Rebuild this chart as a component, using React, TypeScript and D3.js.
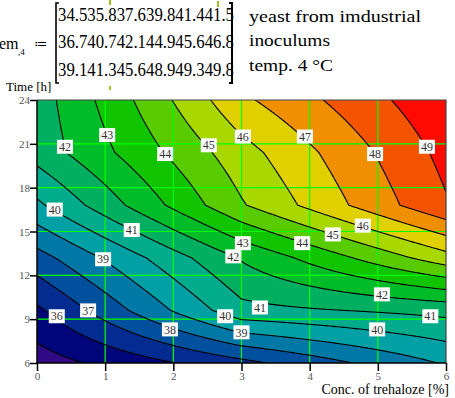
import React, { useEffect, useRef } from "react";
import * as d3 from "d3";

// emulsion values: one row per trehalose concentration, one column per time
const concentrations = [0, 3, 6];
const times = [6, 9.6, 13.2, 16.8, 20.4, 24];
const emConc0 = [34.5, 35.8, 37.6, 39.8, 41.4, 41.5];
const emConc3 = [36.7, 40.7, 42.1, 44.9, 45.6, 46.8];
const emConc6 = [39.1, 41.3, 45.6, 48.9, 49.3, 49.8];
const emRows = [emConc0, emConc3, emConc6];

const levels = [35, 36, 37, 38, 39, 40, 41, 42, 43, 44, 45, 46, 47, 48, 49];
const bandColors = [
  "#300a84", "#00067a", "#042c90", "#00509e", "#0078a6", "#00a0a4",
  "#00ac8c", "#00b060", "#00bc28", "#10c400", "#58cc00", "#a8d800",
  "#e0d000", "#f09000", "#f45400", "#ff0a00",
];
const xTicks = [0, 1, 2, 3, 4, 5, 6];
const yTicks = [6, 9, 12, 15, 18, 21, 24];

// contour labels: value, concentration, time
const labelValues = [36, 37, 38, 39, 39, 40, 40, 40, 41, 41, 41, 42, 42, 42, 43, 43, 44, 44, 45, 45, 46, 46, 47, 48, 49];
const labelConc = [0.29, 0.75, 1.95, 0.97, 3.0, 0.26, 2.76, 4.99, 1.39, 3.27, 5.77, 0.41, 2.88, 5.06, 1.03, 3.02, 1.88, 3.89, 2.52, 4.34, 3.02, 4.78, 3.93, 4.96, 5.72];
const labelTime = [9.2, 9.6, 8.3, 13.1, 8.1, 16.5, 9.2, 8.3, 15.1, 9.8, 9.2, 20.8, 13.3, 10.7, 21.6, 14.2, 20.3, 14.2, 20.9, 14.8, 21.5, 15.4, 21.5, 20.3, 20.8];

const W = 455;
const H = 398;
const serif = "'Liberation Serif', 'Times New Roman', 'DejaVu Serif', serif";

// bilinear lookup in the measured table
function valueAt(x: number, t: number) {
  const cx = Math.max(concentrations[0], Math.min(concentrations[concentrations.length - 1], x));
  const ct = Math.max(times[0], Math.min(times[times.length - 1], t));
  const i = Math.min(concentrations.length - 2, Math.max(0, d3.bisectRight(concentrations, cx) - 1));
  const j = Math.min(times.length - 2, Math.max(0, d3.bisectRight(times, ct) - 1));
  const u = (cx - concentrations[i]) / (concentrations[i + 1] - concentrations[i]);
  const s = (ct - times[j]) / (times[j + 1] - times[j]);
  return (
    emRows[i][j] * (1 - u) * (1 - s) +
    emRows[i + 1][j] * u * (1 - s) +
    emRows[i][j + 1] * (1 - u) * s +
    emRows[i + 1][j + 1] * u * s
  );
}

function ContourChart() {
  const svgRef = useRef<SVGSVGElement>(null);

  useEffect(() => {
    const svg = d3.select(svgRef.current);
    svg.selectAll("*").remove();

    const x = d3.scaleLinear().domain([0, 6]).range([37, 446]);
    const y = d3.scaleLinear().domain([6, 24]).range([363, 100]);

    // sample grid, one step wider than the plot on each side
    const sx = 6 / 200;
    const st = 18 / 130;
    const nx = 203;
    const ny = 133;
    const grid: number[] = new Array(nx * ny);
    for (let j = 0; j < ny; j++) {
      const t = 24 + st - j * st;
      for (let i = 0; i < nx; i++) {
        grid[j * nx + i] = valueAt(-sx + i * sx, t);
      }
    }
    const contours = d3.contours().size([nx, ny]).thresholds(levels)(grid);
    const proj = d3.geoTransform({
      point(gx: number, gy: number) {
        this.stream.point(x(-sx + (gx - 0.5) * sx), y(24 + st - (gy - 0.5) * st));
      },
    });
    const path = d3.geoPath(proj);

    svg.append("defs").append("clipPath").attr("id", "plotClip")
      .append("rect").attr("x", 37).attr("y", 100).attr("width", 409).attr("height", 263);

    const plot = svg.append("g").attr("clip-path", "url(#plotClip)");
    plot.append("rect").attr("x", 37).attr("y", 100).attr("width", 409).attr("height", 263)
      .attr("fill", bandColors[0]);
    plot.selectAll(".band").data(contours).join("path")
      .attr("class", "band")
      .attr("d", (d: any) => path(d))
      .attr("fill", (d: any, k: number) => bandColors[k + 1]);

    // green grid
    plot.selectAll(".gx").data(xTicks.slice(1, -1)).join("line")
      .attr("class", "gx")
      .attr("x1", (d) => x(d)).attr("x2", (d) => x(d))
      .attr("y1", 100).attr("y2", 363)
      .attr("stroke", "#00ff00").attr("stroke-width", 1.2);
    plot.selectAll(".gy").data(yTicks.slice(1, -1)).join("line")
      .attr("class", "gy")
      .attr("y1", (d) => y(d)).attr("y2", (d) => y(d))
      .attr("x1", 37).attr("x2", 446)
      .attr("stroke", "#00ff00").attr("stroke-width", 1.2);

    plot.selectAll(".iso").data(contours).join("path")
      .attr("class", "iso")
      .attr("d", (d: any) => path(d))
      .attr("fill", "none")
      .attr("stroke", "#000")
      .attr("stroke-width", 1.1);

    // frame
    svg.append("path").attr("d", "M37,100H446V363").attr("fill", "none")
      .attr("stroke", "#444").attr("stroke-width", 1.2);
    svg.append("path").attr("d", "M37,100V363H446").attr("fill", "none")
      .attr("stroke", "#000").attr("stroke-width", 1.5);

    // axes
    const xAxis = svg.append("g").attr("transform", "translate(0,363)")
      .call(d3.axisBottom(x).tickValues(xTicks).tickSize(8).tickSizeOuter(0).tickFormat(d3.format("d")));
    const yAxis = svg.append("g").attr("transform", "translate(37,0)")
      .call(d3.axisLeft(y).tickValues(yTicks).tickSize(7).tickSizeOuter(0).tickFormat(d3.format("d")));
    [xAxis, yAxis].forEach((a) => {
      a.select(".domain").remove();
      a.selectAll(".tick line").attr("stroke", "#000").attr("stroke-width", 1.5);
      a.selectAll(".tick text").attr("font-family", serif).attr("font-size", 11).attr("fill", "#555");
    });
    xAxis.selectAll(".tick text").attr("dy", "0.55em");
    yAxis.selectAll(".tick text").attr("x", -7);

    // contour labels
    const lab = svg.selectAll(".lab").data(labelValues).join("g")
      .attr("class", "lab")
      .attr("transform", (d, k) => `translate(${x(labelConc[k])},${y(labelTime[k])})`);
    lab.append("rect").attr("x", -8).attr("y", -7).attr("width", 16).attr("height", 14)
      .attr("fill", "#fff");
    lab.append("text").attr("text-anchor", "middle").attr("dy", "0.35em")
      .attr("font-family", serif).attr("font-size", 12).attr("fill", "#333")
      .text((d) => d);

    // axis titles
    svg.append("text").attr("x", 6).attr("y", 91).attr("font-family", serif)
      .attr("font-size", 13).text("Time [h]");
    svg.append("text").attr("x", 449).attr("y", 394).attr("text-anchor", "end")
      .attr("font-family", serif).attr("font-size", 14).text("Conc. of trehaloze [%]");
  }, []);

  return (
    <svg ref={svgRef} width={W} height={H} style={{ position: "absolute", left: 0, top: 0, background: "#fff" }} />
  );
}

function Header() {
  const rowBase = [21, 48, 76];
  return (
    <svg width={W} height={95} style={{ position: "absolute", left: 0, top: 0 }}>
      <g fontFamily={serif} fill="#000">
        <text x={-1} y={49} fontSize={16}>em</text>
        <text x={18} y={55} fontSize={9}>,4</text>
        <text x={34} y={48} fontSize={13}>≔</text>
        {emRows.map((row, k) => (
          <text key={k} x={58} y={rowBase[k]} fontSize={18} textLength={176} lengthAdjust="spacingAndGlyphs">
            {row.map((v) => v.toFixed(1)).join("")}
          </text>
        ))}
        <text x={249} y={22} fontSize={16} textLength={172} lengthAdjust="spacingAndGlyphs">yeast from imdustrial</text>
        <text x={249} y={46} fontSize={16} textLength={81} lengthAdjust="spacingAndGlyphs">inoculums</text>
        <text x={249} y={71} fontSize={16} textLength={84} lengthAdjust="spacingAndGlyphs">temp. 4 °C</text>
      </g>
      <path d="M59,3H56V83H59" fill="none" stroke="#000" strokeWidth={1.6} />
      <path d="M229,3H232V83H229" fill="none" stroke="#000" strokeWidth={2} />
      <rect x={109} y={0} width={2} height={5} fill="#a0c020" />
      <rect x={217} y={1} width={2} height={6} fill="#a0c020" />
      <rect x={109} y={86} width={2} height={4} fill="#a0c020" />
    </svg>
  );
}

export default function App() {
  return (
    <div style={{ position: "fixed", left: 0, top: 0, width: W, height: H, overflow: "hidden", background: "#fff" }}>
      <ContourChart />
      <Header />
    </div>
  );
}
